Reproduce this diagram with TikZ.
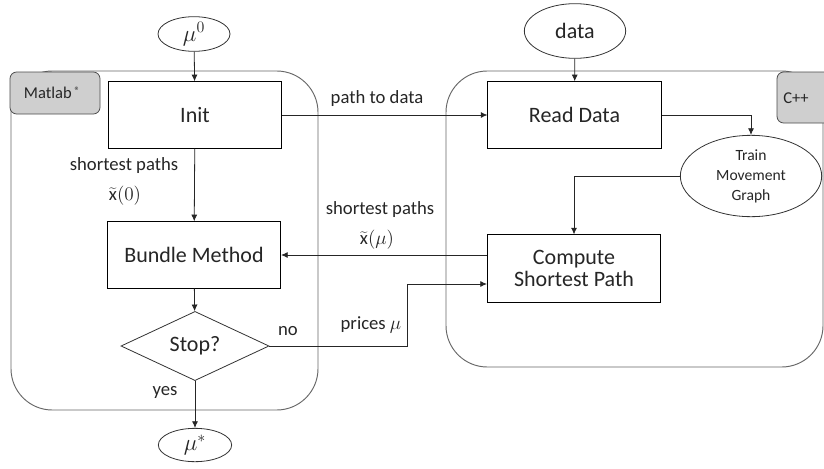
\documentclass[tikz,border=0pt]{standalone}
\usepackage{fontspec}
\setmainfont{Carlito}
\usetikzlibrary{shapes.geometric,arrows.meta,calc}
\tikzset{
  boxnode/.style={draw=black, line width=0.6pt, minimum width=130pt, minimum height=50pt, inner sep=0pt, font=\fontsize{16.5}{19}\selectfont, text=black!85, align=center},
  ellnode/.style={draw=black!80, line width=0.6pt, ellipse, inner sep=0pt, text=black!85},
  decnode/.style={draw=black!80, line width=0.6pt, diamond, inner sep=0pt, minimum width=111pt, minimum height=43pt, font=\fontsize{16.5}{19}\selectfont, text=black!85},
  container/.style={draw=black!60, line width=0.7pt, rounded corners=31pt},
  tabnode/.style={draw=black!70, line width=0.6pt, fill=black!19, rounded corners=5pt},
  lbl/.style={font=\fontsize{14}{17}\selectfont, text=black!85, align=center, inner sep=0pt},
  conn/.style={draw=black!85, line width=0.6pt},
  arr/.style={conn, -{Latex[length=5pt,width=4.5pt]}}
}
\begin{document}
\begin{tikzpicture}[x=0.75pt,y=-0.75pt]
\useasboundingbox (0,0) rectangle (824,468);
\clip (0,0) rectangle (824,468);
\fill[white] (0,0) rectangle (824,468);
% containers
\draw[container] (11,71) rectangle (318,410);
\draw[container] (446,71) rectangle (823,367);
% tabs
\draw[tabnode] (10,72) rectangle (100,114);
\node[font=\fontsize{12.4}{14}\selectfont, text=black!85] (matlab) at (52,93) {Matlab\,\raisebox{0.6ex}{\fontsize{8}{9}\selectfont\textregistered}};
\draw[tabnode] (777,72) rectangle (840,123);
\node[font=\fontsize{12.4}{14}\selectfont, text=black!85] (cpp) at (796,98) {C++};
% nodes
\node[ellnode, minimum width=54pt, minimum height=26pt, font=\fontsize{17.5}{19}\selectfont] (mu0) at (194,34) {$\mu^0$};
\node[ellnode, minimum width=76pt, minimum height=41pt, font=\fontsize{16.5}{19}\selectfont] (data) at (575,31) {data};
\node[boxnode] (init) at (195,115) {Init};
\node[boxnode] (bundle) at (194,255) {Bundle Method};
\node[decnode] (stop) at (195,346) {Stop?};
\node[ellnode, minimum width=55pt, minimum height=25pt, font=\fontsize{17.5}{19}\selectfont] (mustar) at (195,445) {$\mu^{*}$};
\node[boxnode] (read) at (574.5,115) {Read Data};
\node[boxnode, minimum height=50.5pt] (compute) at (574,268.5) {Compute\\[-2pt]Shortest Path};
\node[ellnode, minimum width=106pt, minimum height=61pt, font=\fontsize{11.7}{15}\selectfont, align=center] (tmg) at (751,176) {Train\\Movement\\Graph};
% connectors
\draw[arr] (mu0) -- (init);
\draw[arr] (data) -- (read);
\draw[arr] (init.east) -- (read.west);
\draw[arr] (read.east) -| (tmg.north);
\draw[arr] (tmg.west) -| (compute.north);
\draw[arr] (init) -- (bundle);
\draw[arr] (compute.west |- bundle.east) -- (bundle.east);
\draw[arr] (bundle) -- (stop);
\draw[arr] (stop) -- (mustar);
\draw[arr] (stop.east) -- ++(138,0) |- ($(compute.west)+(0,15.5)$);
% labels
\node[lbl] (l1) at (377,99) {path to data};
\node[lbl] (l2a) at (124,166) {shortest\ paths};
\node[lbl] (l2b) at (125,196) {$\widetilde{\mathrm{x}}(0)$};
\node[lbl] (l3a) at (380,210) {shortest\ paths};
\node[lbl] (l3b) at (377,240) {$\widetilde{\mathrm{x}}(\mu)$};
\node[lbl] (l4) at (371,325) {prices $\mu$};
\node[lbl] (l5) at (288,331) {no};
\node[lbl] (l6) at (165,392) {yes};
\end{tikzpicture}
\end{document}
